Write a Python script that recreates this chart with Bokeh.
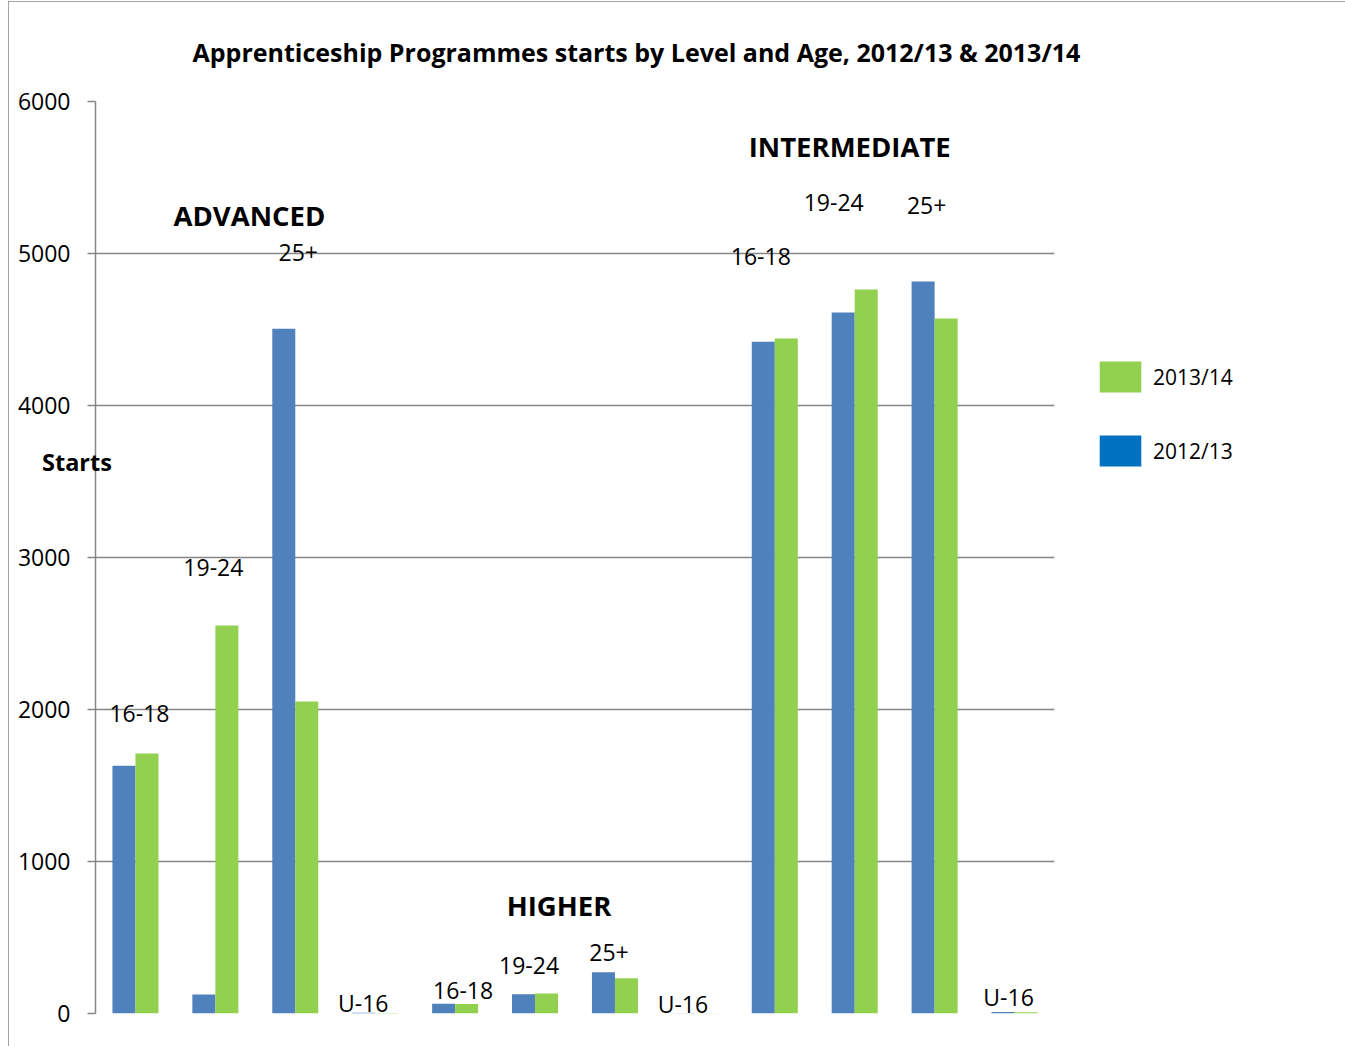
from bokeh.plotting import figure
from bokeh.models import FactorRange, Range1d, FixedTicker, Legend, LegendItem, ColumnDataSource
from bokeh.transform import dodge
from bokeh.core.properties import value
from bokeh.embed import file_html
from bokeh.resources import INLINE

# ---- data ----
levels = ["ADVANCED", "HIGHER", "INTERMEDIATE"]
ages = ["16-18", "19-24", "25+", "U-16"]
years = ["2012/13", "2013/14"]
starts_2012_13 = [1630, 125, 4505, 5, 64, 127, 272, 2, 4420, 4612, 4816, 10]
starts_2013_14 = [1710, 2553, 2053, 3, 62, 131, 232, 2, 4440, 4763, 4572, 8]
y_ticks = [0, 1000, 2000, 3000, 4000, 5000, 6000]
title_text = "Apprenticeship Programmes starts by Level and Age, 2012/13 & 2013/14"
y_title = "Starts"

# ---- styles / label placement ----
FONT = "Open Sans"
BLUE = "#4F81BD"
GREEN = "#92D050"
LEG_BLUE = "#0070C0"
GRID = "#868686"
age_label_dx = [4, -2, 3, -12, 8, -6, -6, -12, -14, -21, -8, -6]
age_label_y = [1975, 2935, 5008, 72, 152, 316, 402, 60, 4982, 5336, 5316, 106]
group_anchor_age = "19-24"
group_label_dx = [34, 24, -5]
group_label_y = [5252, 712, 5706]

factors = [(lvl, age) for lvl in levels for age in ages]

src = ColumnDataSource(dict(x=factors, a=starts_2012_13, b=starts_2013_14,
                            age=[f[1] for f in factors], dx=age_label_dx, ly=age_label_y))

p = figure(x_range=FactorRange(*factors, range_padding=0, group_padding=0, factor_padding=0,
                               subgroup_padding=0),
           y_range=Range1d(0, 6000),
           frame_width=959, frame_height=912,
           min_border_left=87, min_border_right=290, min_border_top=100, min_border_bottom=33,
           output_backend="svg", toolbar_location=None,
           styles={"outline": "1px solid #868686", "outline-offset": "-1px",
                   "margin-left": "8px", "margin-top": "1px"})

blue_r = p.vbar(x=dodge("x", -0.144, range=p.x_range), top="a", width=0.288, source=src,
                fill_color=BLUE, line_color=None)
green_r = p.vbar(x=dodge("x", 0.144, range=p.x_range), top="b", width=0.288, source=src,
                 fill_color=GREEN, line_color=None)

# age labels
p.text(x="x", y="ly", text="age", x_offset="dx", source=src,
       text_font=value(FONT), text_font_size="23px", text_color="black",
       text_align="center", text_baseline="middle")

# level labels
gsrc = ColumnDataSource(dict(x=[(lvl, group_anchor_age) for lvl in levels], y=group_label_y,
                             t=levels, dx=group_label_dx))
p.text(x="x", y="y", text="t", x_offset="dx", source=gsrc,
       text_font=value(FONT), text_font_size="27.5px", text_font_style="bold",
       text_color="black", text_align="center", text_baseline="middle")

# title
p.title.text = title_text
p.title.align = "left"
p.title.offset = 97
p.title.vertical_align = "middle"
p.title.standoff = 63
p.title.text_font = FONT
p.title.text_font_size = "25px"
p.title.text_font_style = "bold"
p.title.text_color = "black"

# legend: hidden copies of the bar renderers carry the legend swatch colours
g_leg = p.vbar(x=dodge("x", 0.144, range=p.x_range), top="b", width=0.288, source=src,
               fill_color=GREEN, line_color=None, visible=False)
b_leg = p.vbar(x=dodge("x", -0.144, range=p.x_range), top="a", width=0.288, source=src,
               fill_color=LEG_BLUE, line_color=None, visible=False)
legend = Legend(items=[LegendItem(label=years[1], renderers=[g_leg]),
                       LegendItem(label=years[0], renderers=[b_leg])],
                location=(40, 543), glyph_width=52, glyph_height=39, spacing=35,
                padding=0, margin=0, label_standoff=7, border_line_color=None,
                background_fill_alpha=0, label_text_font=FONT, label_text_font_size="21px",
                label_text_color="black", inactive_fill_alpha=0)
p.add_layout(legend, "right")

# axes & grid
p.xaxis.visible = False
p.xgrid.visible = False
p.ygrid.grid_line_color = GRID
p.ygrid.grid_line_width = 1.5
p.ygrid.ticker = FixedTicker(ticks=y_ticks)
p.yaxis.ticker = FixedTicker(ticks=y_ticks)
p.yaxis.axis_line_color = GRID
p.yaxis.axis_line_width = 1.5
p.yaxis.major_tick_line_color = GRID
p.yaxis.major_tick_line_width = 1.5
p.yaxis.major_tick_out = 8
p.yaxis.major_tick_in = 0
p.yaxis.minor_tick_line_color = None
p.yaxis.major_label_standoff = 17
p.yaxis.major_label_text_font = FONT
p.yaxis.major_label_text_font_size = "23px"
p.yaxis.major_label_text_color = "black"
# axis title, horizontal, lifted above the axis centre by trailing blank lines
p.yaxis.axis_label = y_title + "\n" * 5
p.yaxis.axis_label_orientation = "horizontal"
p.yaxis.axis_label_standoff = -97
p.yaxis.axis_label_text_font = FONT
p.yaxis.axis_label_text_font_size = "23.5px"
p.yaxis.axis_label_text_font_style = "bold"
p.yaxis.axis_label_text_color = "black"
p.outline_line_color = None

open("out.html", "w").write(file_html(p, INLINE))
